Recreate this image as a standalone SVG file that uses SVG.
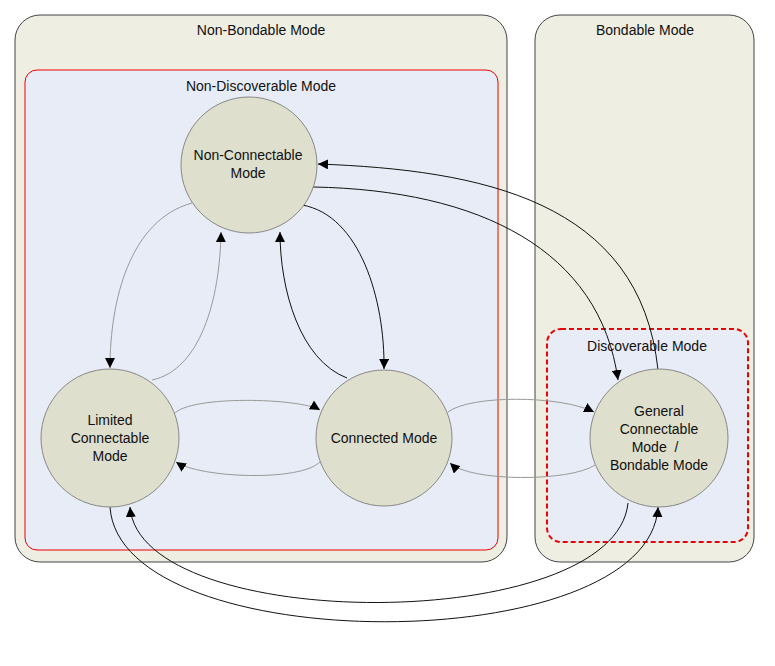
<svg xmlns="http://www.w3.org/2000/svg" width="775" height="666" viewBox="0 0 775 666">
<style>
text{font-family:"Liberation Sans",Arial,sans-serif;font-size:14px;fill:#111;text-anchor:middle}
.node{fill:#dedfcd;stroke:#888;stroke-width:1}
.c{fill:none;stroke:#111;stroke-width:1}
.g{fill:none;stroke:#999;stroke-width:1}
</style>
<defs>
<marker id="a" viewBox="0 0 10 10" refX="10" refY="5" markerWidth="10" markerHeight="10" markerUnits="userSpaceOnUse" orient="auto"><path d="M0,0L10,5L0,10z" fill="#000"/></marker>
</defs>
<rect width="775" height="666" fill="#fff"/>
<g id="non-bondable"><rect x="15" y="15" width="492" height="547" rx="25" fill="#eeeee3" stroke="#444"/><text x="261" y="35">Non-Bondable Mode</text></g>
<g id="bondable"><rect x="535" y="15" width="219" height="547" rx="25" fill="#eeeee3" stroke="#444"/><text x="645" y="35">Bondable Mode</text></g>
<g id="non-discoverable"><rect x="25" y="70" width="473" height="480" rx="12" fill="#e8ecf6" stroke="#e00"/><text x="261" y="91">Non-Discoverable Mode</text></g>
<g id="discoverable"><rect x="547" y="329" width="201" height="213" rx="14" fill="#e8ecf6" stroke="#e00" stroke-width="2" stroke-dasharray="5,3"/><text x="647" y="351">Discoverable Mode</text></g>
<g id="connectors">
<path class="g" d="M192,203 C130,220 110,300 110,368" marker-end="url(#a)"/>
<path class="g" d="M152,380 C200,370 220,300 221,232" marker-end="url(#a)"/>
<path class="c" d="M347,378 C300,360 280,290 280,232" marker-end="url(#a)"/>
<path class="c" d="M302,205 C360,215 385,300 384,369" marker-end="url(#a)"/>
<path class="g" d="M174,414 C190,395 300,398 320,410" marker-end="url(#a)"/>
<path class="g" d="M320,462 C300,482 200,478 176,462" marker-end="url(#a)"/>
<path class="g" d="M448,412 C470,395 560,395 594,412" marker-end="url(#a)"/>
<path class="g" d="M595,465 C570,482 470,482 450,463" marker-end="url(#a)"/>
<path class="c" d="M313,187 C480,190 600,250 618,380" marker-end="url(#a)"/>
<path class="c" d="M658,370 C640,200 480,170 318,164" marker-end="url(#a)"/>
<path class="c" d="M110,507 C120,660 650,660 658,507" marker-end="url(#a)"/>
<path class="c" d="M628,503 C615,635 140,635 130,507" marker-end="url(#a)"/>
</g>
<g id="non-connectable"><circle class="node" cx="249" cy="165" r="68"/><text x="248" y="160">Non-Connectable</text><text x="248" y="178">Mode</text></g>
<g id="limited"><circle class="node" cx="110" cy="438" r="69"/><text x="110" y="425">Limited</text><text x="110" y="443">Connectable</text><text x="110" y="461">Mode</text></g>
<g id="connected"><circle class="node" cx="384" cy="438" r="68"/><text x="384" y="443">Connected Mode</text></g>
<g id="general"><circle class="node" cx="659" cy="438" r="69"/><text x="659" y="416">General</text><text x="659" y="434">Connectable</text><text x="655" y="452" xml:space="preserve">Mode  /</text><text x="659" y="470">Bondable Mode</text></g>
</svg>
